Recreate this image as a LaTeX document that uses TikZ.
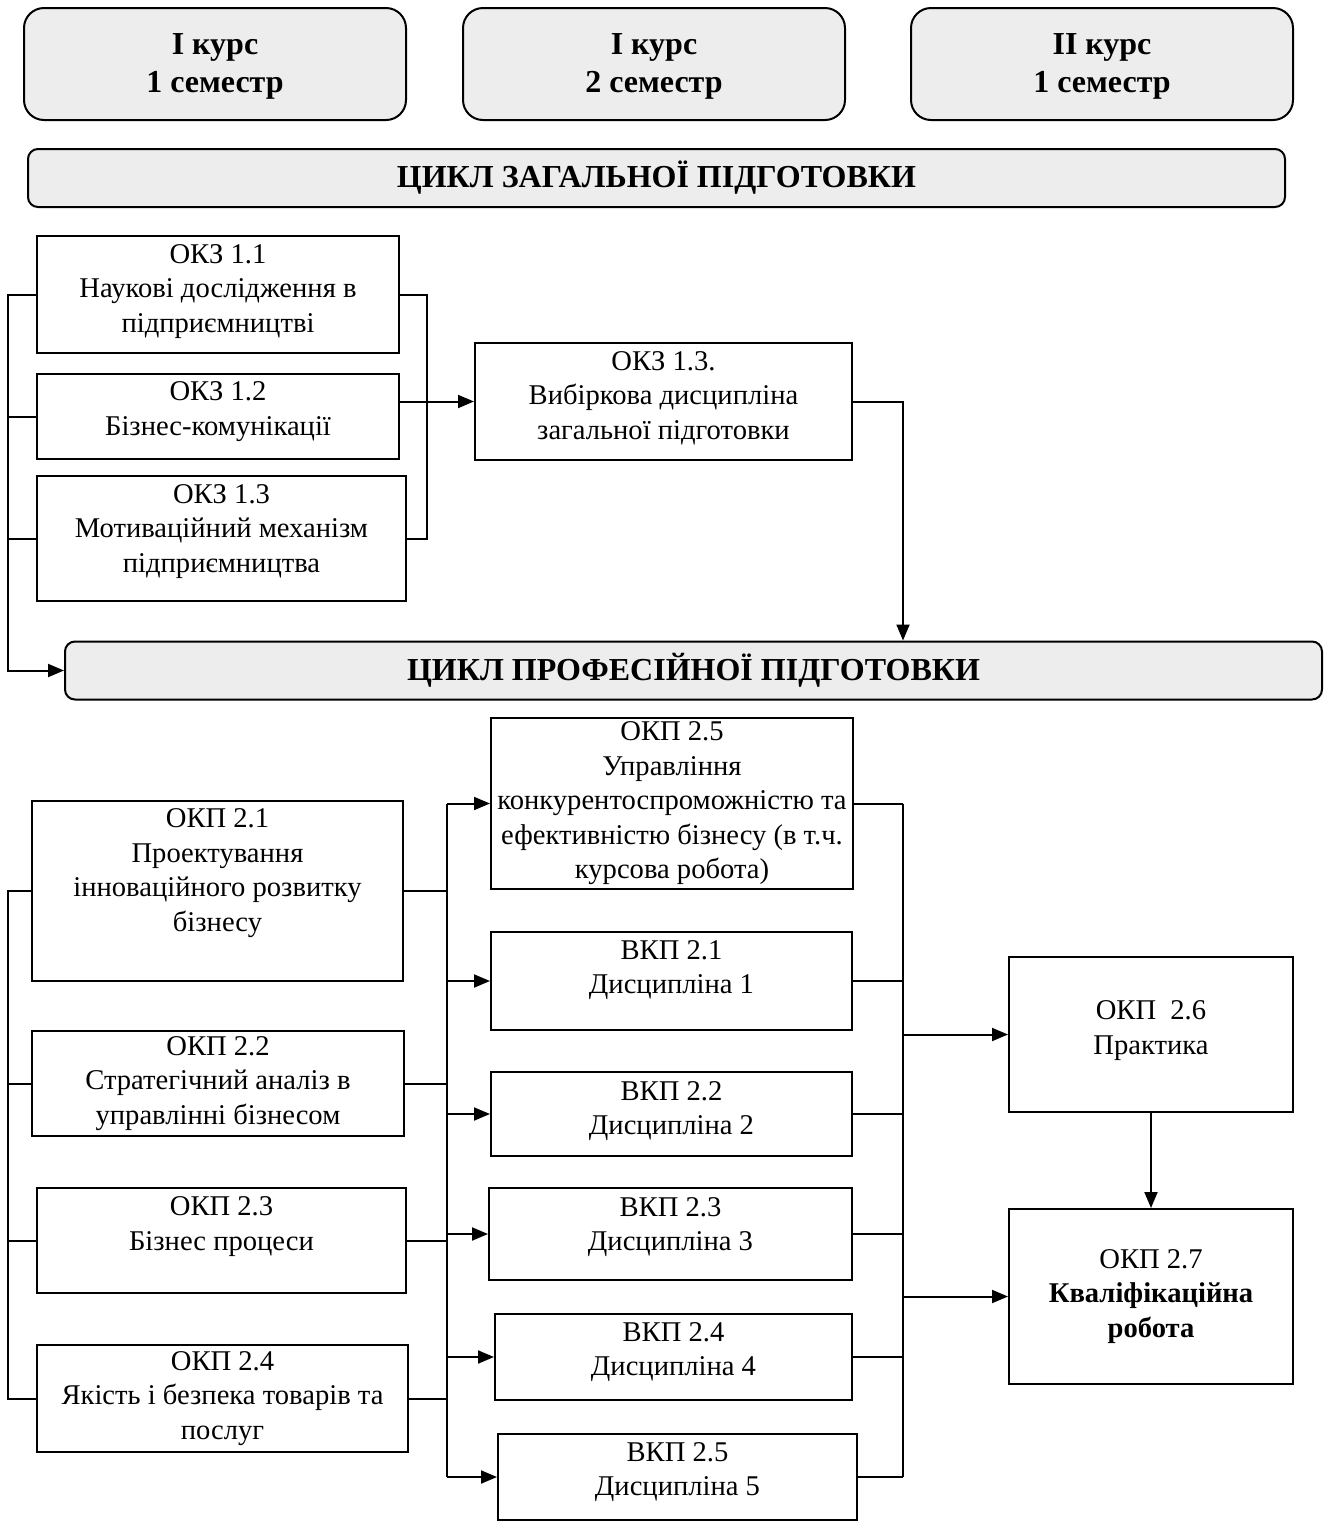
\documentclass[tikz,border=0pt]{standalone}
\usepackage{fontspec}
\setmainfont{Liberation Serif}
\usepackage{xcolor}
\definecolor{boxgrey}{RGB}{237, 237, 237}
\usetikzlibrary{arrows.meta, calc}

\begin{document}
\begin{tikzpicture}[x=0.5pt, y=-0.5pt, >={Triangle[length=8pt, width=6.5pt]},
    every node/.style={font=\fontsize{14.3}{17.25}\selectfont, align=center, inner sep=1pt},
    box/.style={draw, rectangle, line width=1pt},
    sem/.style={draw, rectangle, rounded corners=10pt, fill=boxgrey, line width=1pt, minimum width=191pt, minimum height=56pt, font=\fontsize{16}{19}\selectfont\bfseries},
    cyclebar/.style={draw, rectangle, rounded corners=5pt, fill=boxgrey, line width=1pt, minimum width=628.5pt, minimum height=29pt, font=\fontsize{16}{19}\selectfont\bfseries},
    lift/.style={text depth=#1},
    link/.style={line width=1pt}]
    \useasboundingbox (0,0) rectangle (1327,1522);

    % Semester headers
    \node [sem, lift=1pt] (sem1) at (215,64) {І курс\\1 семестр};
    \node [sem, lift=1pt] (sem2) at (654,64) {І курс\\2 семестр};
    \node [sem, lift=1pt] (sem3) at (1102,64) {ІІ курс\\1 семестр};

    % General training cycle
    \node [cyclebar] (gen) at (656.5,178) {ЦИКЛ ЗАГАЛЬНОЇ ПІДГОТОВКИ};
    \node [box, minimum width=181pt, minimum height=58.5pt, lift=6pt] (okz11) at (218,294.5) {ОКЗ 1.1\\Наукові дослідження в\\підприємництві};
    \node [box, minimum width=181pt, minimum height=42.5pt, lift=8pt] (okz12) at (218,416.5) {ОКЗ 1.2\\Бізнес-комунікації};
    \node [box, minimum width=184.5pt, minimum height=62.5pt, lift=10pt] (okz13) at (221.5,538.5) {ОКЗ 1.3\\Мотиваційний механізм\\підприємництва};
    \node [box, minimum width=188.5pt, minimum height=58.5pt, lift=6pt] (vyb) at (663.5,401.5) {ОКЗ 1.3.\\Вибіркова дисципліна\\загальної підготовки};

    % Professional training cycle
    \node [cyclebar] (prof) at (693.5,670.5) {ЦИКЛ ПРОФЕСІЙНОЇ ПІДГОТОВКИ};
    \node [box, minimum width=185.5pt, minimum height=90pt, lift=21pt] (okp21) at (217.5,891) {ОКП 2.1\\Проектування\\інноваційного розвитку\\бізнесу};
    \node [box, minimum width=186pt, minimum height=52.5pt] (okp22) at (218,1083.5) {ОКП 2.2\\Стратегічний аналіз в\\управлінні бізнесом};
    \node [box, minimum width=184.5pt, minimum height=52.5pt, lift=17pt] (okp23) at (221.5,1240.5) {ОКП 2.3\\Бізнес процеси};
    \node [box, minimum width=185.5pt, minimum height=53.5pt] (okp24) at (222.5,1398.5) {ОКП 2.4\\Якість і безпека товарів та\\послуг};
    \node [box, minimum width=181pt, minimum height=85.5pt] (okp25) at (672,803.5) {ОКП 2.5\\Управління\\конкурентоспроможністю та\\ефективністю бізнесу (в т.ч.\\курсова робота)};
    \node [box, minimum width=180.5pt, minimum height=49pt, lift=14pt] (vkp21) at (671.5,981) {ВКП 2.1\\Дисципліна 1};
    \node [box, minimum width=180.5pt, minimum height=42pt, lift=6pt] (vkp22) at (671.5,1114) {ВКП 2.2\\Дисципліна 2};
    \node [box, minimum width=181.5pt, minimum height=46pt, lift=10pt] (vkp23) at (670.5,1234) {ВКП 2.3\\Дисципліна 3};
    \node [box, minimum width=178.5pt, minimum height=43pt, lift=8pt] (vkp24) at (673.5,1357) {ВКП 2.4\\Дисципліна 4};
    \node [box, minimum width=179.5pt, minimum height=43pt, lift=8pt] (vkp25) at (677.5,1477) {ВКП 2.5\\Дисципліна 5};
    \node [box, minimum width=142pt, minimum height=77.5pt, lift=7pt] (okp26) at (1151,1034.5) {ОКП~~2.6\\Практика};
    \node [box, minimum width=142pt, minimum height=87.5pt] (okp27) at (1151,1296.5) {ОКП 2.7\\\textbf{Кваліфікаційна}\\\textbf{робота}};

    % Bus lines
    \coordinate (busL) at (8,0);
    \coordinate (brk) at (427,0);
    \coordinate (busM) at (447,0);
    \coordinate (busR) at (903,0);

    % General cycle links
    \draw [->, link] (okz11.west) -| (prof.west -| busL) -- (prof.west);
    \draw [link] (okz12.west) -- (okz12.west -| busL);
    \draw [link] (okz13.west) -- (okz13.west -| busL);
    \draw [link] (okz11.east) -| (okz13.east -| brk) -- (okz13.east);
    \draw [->, link] (okz12.east |- vyb.west) -- (vyb.west);
    \draw [->, link] (vyb.east) -| (prof.north -| busR);

    % Professional cycle links
    \draw [link] (okp21.west) -| (okp24.west -| busL) -- (okp24.west);
    \foreach \n in {okp22, okp23} {
        \draw [link] (\n.west) -- (\n.west -| busL);
    }
    \draw [link] (okp25.west -| busM) -- (vkp25.west -| busM);
    \foreach \n in {okp21, okp22, okp23, okp24} {
        \draw [link] (\n.east) -- (\n.east -| busM);
    }
    \foreach \n in {okp25, vkp21, vkp22, vkp23, vkp24, vkp25} {
        \draw [->, link] (\n.west -| busM) -- (\n.west);
        \draw [link] (\n.east) -- (\n.east -| busR);
    }
    \draw [link] (okp25.east -| busR) -- (vkp25.east -| busR);
    \draw [->, link] (okp26.west -| busR) -- (okp26.west);
    \draw [->, link] (okp27.west -| busR) -- (okp27.west);
    \draw [->, link] (okp26.south) -- (okp27.north);
\end{tikzpicture}
\end{document}
